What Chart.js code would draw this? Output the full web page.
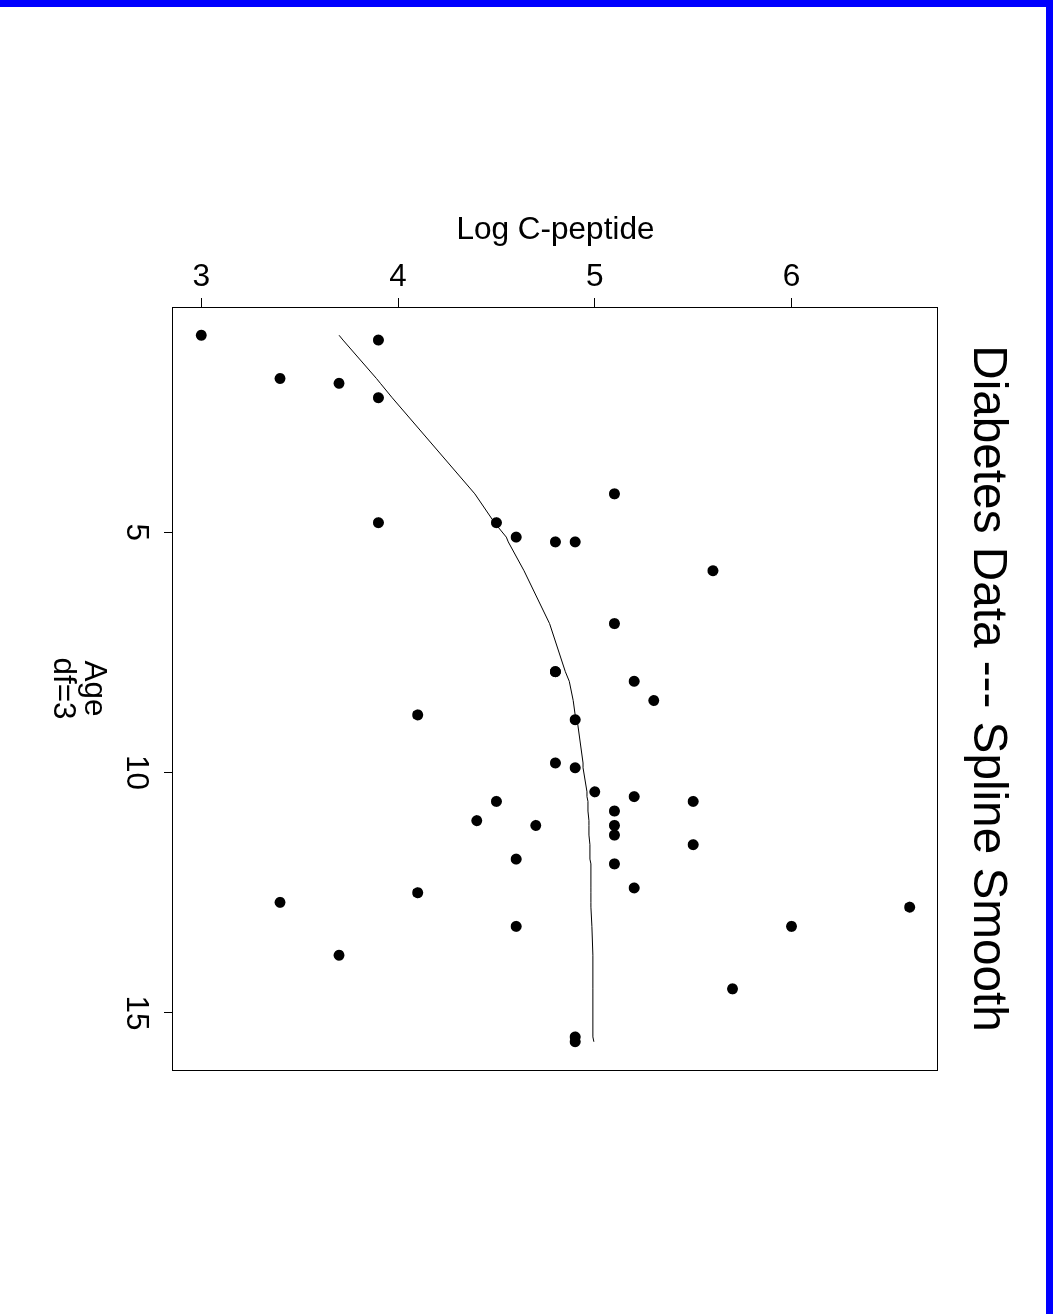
<!DOCTYPE html>
<html>
<head>
<meta charset="utf-8">
<script src="https://cdn.jsdelivr.net/npm/chart.js@4.4.1/dist/chart.umd.min.js"></script>
<style>
  html, body { margin: 0; padding: 0; width: 1053px; height: 1314px; overflow: hidden; background: #fff; }
  #rot { position: absolute; left: 0; top: 0; width: 1314px; height: 1053px; transform-origin: 0 0; transform: translateX(1053px) rotate(90deg); }
  #bandTop { position: absolute; left: 0; top: 0; width: 1053px; height: 7px; background: #0000ff; }
  #bandRight { position: absolute; right: 0; top: 0; width: 7px; height: 1314px; background: #0000ff; }
</style>
</head>
<body>
<div id="rot"><canvas id="c" width="1314" height="1053"></canvas></div>
<div id="bandTop"></div>
<div id="bandRight"></div>
<script>
// ---- data ----
const ages = [5.2, 8.8, 10.5, 10.6, 10.4, 1.8, 12.7, 15.6, 5.8, 1.9, 2.2, 4.8, 7.9, 5.2, 0.9, 11.8, 7.9, 11.5, 10.6, 8.5, 11.1, 12.8, 11.3, 1.0, 14.5, 11.9, 8.1, 13.8, 15.5, 9.8, 11.0, 12.4, 11.1, 5.1, 4.8, 4.2, 6.9, 13.2, 9.9, 12.5, 13.2, 8.9, 10.8];
const cPeptide = [4.8, 4.1, 5.2, 5.5, 5.0, 3.4, 3.4, 4.9, 5.6, 3.7, 3.9, 4.5, 4.8, 4.9, 3.0, 4.6, 4.8, 5.5, 4.5, 5.3, 4.7, 6.6, 5.1, 3.9, 5.7, 5.1, 5.2, 3.7, 4.9, 4.8, 4.4, 5.2, 5.1, 4.6, 3.9, 5.1, 5.1, 6.0, 4.9, 4.1, 4.6, 4.9, 5.1];
const fitAges = [0.9, 1.0, 1.8, 1.9, 2.2, 4.2, 4.8, 5.1, 5.2, 5.8, 6.9, 7.9, 8.1, 8.5, 8.8, 8.9, 9.8, 9.9, 10.4, 10.5, 10.6, 10.8, 11.0, 11.1, 11.3, 11.5, 11.8, 11.9, 12.4, 12.5, 12.7, 12.8, 13.2, 13.8, 14.5, 15.5, 15.6];
const fitValues = [3.70, 3.72, 3.89, 3.91, 3.97, 4.39, 4.49, 4.55, 4.56, 4.64, 4.77, 4.85, 4.87, 4.89, 4.90, 4.91, 4.94, 4.94, 4.96, 4.96, 4.965, 4.965, 4.97, 4.97, 4.97, 4.975, 4.975, 4.98, 4.98, 4.98, 4.98, 4.98, 4.985, 4.99, 4.99, 4.99, 4.995];
const ageTicks = [5, 10, 15];
const cPeptideTicks = [3, 4, 5, 6];
const titleText = 'Diabetes Data --- Spline Smooth';
const xTitle = ['Age', 'df=3'];
const yTitle = 'Log C-peptide';

// R-style 4% range extension
function ext(arr) {
  const lo = Math.min(...arr), hi = Math.max(...arr), r = hi - lo;
  return [lo - 0.04 * r, hi + 0.04 * r];
}
const [xMin, xMax] = ext(ages);
const [yMin, yMax] = ext(cPeptide);

const FONT = "'Liberation Sans', Arial, Helvetica, sans-serif";
const black = '#000000';

const points = ages.map((a, i) => ({ x: a, y: cPeptide[i] }));
const fit = fitAges.map((a, i) => ({ x: a, y: fitValues[i] }));

new Chart(document.getElementById('c'), {
  type: 'scatter',
  data: {
    datasets: [
      { type: 'scatter', data: points, pointRadius: 5.5, pointHoverRadius: 5.5, backgroundColor: black, borderWidth: 0 },
      { type: 'line', data: fit, showLine: true, pointRadius: 0, borderColor: black, borderWidth: 1, tension: 0, fill: false }
    ]
  },
  options: {
    responsive: false,
    animation: false,
    devicePixelRatio: 1,
    events: [],
    layout: { padding: { left: 63, right: 0, top: 0, bottom: 0 } },
    plugins: {
      legend: { display: false },
      tooltip: { enabled: false },
      title: {
        display: true, text: titleText, color: black,
        font: { family: FONT, size: 47.7, weight: 'normal', lineHeight: 1.2 },
        padding: { top: 37.4, bottom: 20.4 }
      }
    },
    scales: {
      x: {
        type: 'linear', position: 'bottom', min: xMin, max: xMax,
        afterBuildTicks: s => { s.ticks = ageTicks.map(v => ({ value: v })); },
        afterFit: s => { s.height = 173; },
        ticks: { color: black, font: { family: FONT, size: 31.5 }, padding: 9, maxRotation: 0, minRotation: 0, autoSkip: false },
        grid: { display: true, drawOnChartArea: false, drawTicks: true, tickLength: 9, color: black, lineWidth: 1 },
        border: { display: true, color: black, width: 1 },
        title: { display: true, text: xTitle, color: black, font: { family: FONT, size: 31.5, lineHeight: 1.0 }, padding: { top: 0, bottom: 46.75 } }
      },
      y: {
        type: 'linear', position: 'left', min: yMin, max: yMax,
        afterBuildTicks: s => { s.ticks = cPeptideTicks.map(v => ({ value: v })); },
        afterFit: s => { s.width = 244; },
        ticks: { color: black, font: { family: FONT, size: 31.5 }, padding: 12, minRotation: 90, maxRotation: 90, crossAlign: 'center', autoSkip: false },
        grid: { display: true, drawOnChartArea: false, drawTicks: true, tickLength: 9, color: black, lineWidth: 1 },
        border: { display: true, color: black, width: 1 },
        title: { display: true, text: yTitle, color: black, font: { family: FONT, size: 31.5, lineHeight: 1.2 }, padding: { top: 148.1, bottom: 0 } }
      },
      x2: {
        type: 'linear', axis: 'x', position: 'top', min: xMin, max: xMax,
        afterFit: s => { s.height = 0; },
        ticks: { display: false },
        grid: { display: false, drawTicks: false, drawOnChartArea: false },
        border: { display: true, color: black, width: 1 }
      },
      y2: {
        type: 'linear', axis: 'y', position: 'right', min: yMin, max: yMax,
        afterFit: s => { s.width = 244; },
        ticks: { display: false },
        grid: { display: false, drawTicks: false, drawOnChartArea: false },
        border: { display: true, color: black, width: 1 }
      }
    }
  }
});
</script>
</body>
</html>
